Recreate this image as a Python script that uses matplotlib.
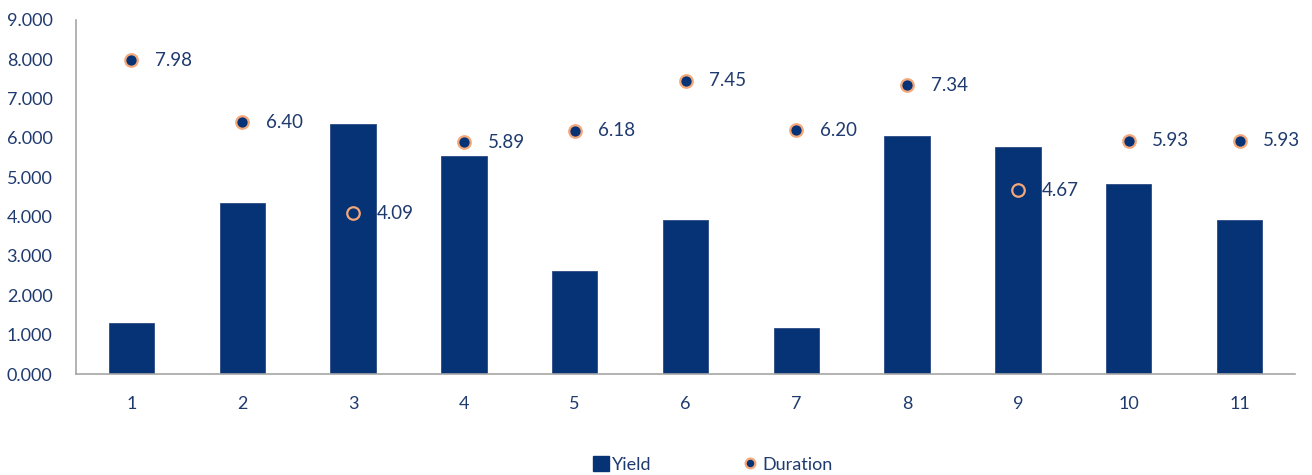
import matplotlib
matplotlib.use("Agg")
import matplotlib.pyplot as plt
from matplotlib.lines import Line2D
from matplotlib.patches import Patch

categories = ["1", "2", "3", "4", "5", "6", "7", "8", "9", "10", "11"]
yield_vals = [1.30, 4.35, 6.36, 5.54, 2.62, 3.92, 1.17, 6.05, 5.77, 4.83, 3.92]
duration_vals = [7.98, 6.40, 4.09, 5.89, 6.18, 7.45, 6.20, 7.34, 4.67, 5.93, 5.93]
y_ticks = [0, 1, 2, 3, 4, 5, 6, 7, 8, 9]

NAVY = "#063375"
TEXT = "#1F3A6E"
ORANGE = "#F4A778"
AXIS = "#A6A6A6"

plt.rcParams["font.family"] = ["Lato", "DejaVu Sans"]

fig = plt.figure(figsize=(13.12, 4.75), dpi=100)
ax = fig.add_axes([0.058, 0.2126, 0.929, 0.7454])

x = list(range(1, len(categories) + 1))
ax.bar(x, yield_vals, width=0.41, color=NAVY, edgecolor="#2B4A85", linewidth=0.6, zorder=2)
ax.plot(x, duration_vals, linestyle="none", marker="o", markersize=9,
        markerfacecolor=NAVY, markeredgecolor=ORANGE, markeredgewidth=1.6, zorder=3)

for xi, d in zip(x, duration_vals):
    ax.annotate(f"{d:.2f}", (xi, d), xytext=(17, 0), textcoords="offset points",
                ha="left", va="center", fontsize=13.5, color=TEXT, zorder=4)

ax.set_xlim(0.5, len(categories) + 0.5)
ax.set_ylim(0, 9)
ax.set_xticks(x)
ax.set_xticklabels(categories)
ax.set_yticks(y_ticks)
ax.set_yticklabels([f"{t:.3f}" for t in y_ticks])
ax.tick_params(axis="both", length=0, labelsize=13, labelcolor=TEXT)
ax.tick_params(axis="x", pad=16)
ax.tick_params(axis="y", pad=17)

for s in ["top", "right"]:
    ax.spines[s].set_visible(False)
for s in ["left", "bottom"]:
    ax.spines[s].set_color(AXIS)
    ax.spines[s].set_linewidth(1.2)

handles = [
    Patch(facecolor=NAVY, edgecolor=NAVY, label="Yield"),
    Line2D([], [], linestyle="none", marker="o", markersize=7,
           markerfacecolor=NAVY, markeredgecolor=ORANGE, markeredgewidth=1.6, label="Duration"),
]
fig.legend(handles=handles, loc="center", bbox_to_anchor=(0.543, 0.022), ncol=2,
           frameon=False, fontsize=13, labelcolor=TEXT, columnspacing=5.0,
           handlelength=0.9, handletextpad=0.2, handleheight=0.9)

fig.savefig("out.png", dpi=100)
